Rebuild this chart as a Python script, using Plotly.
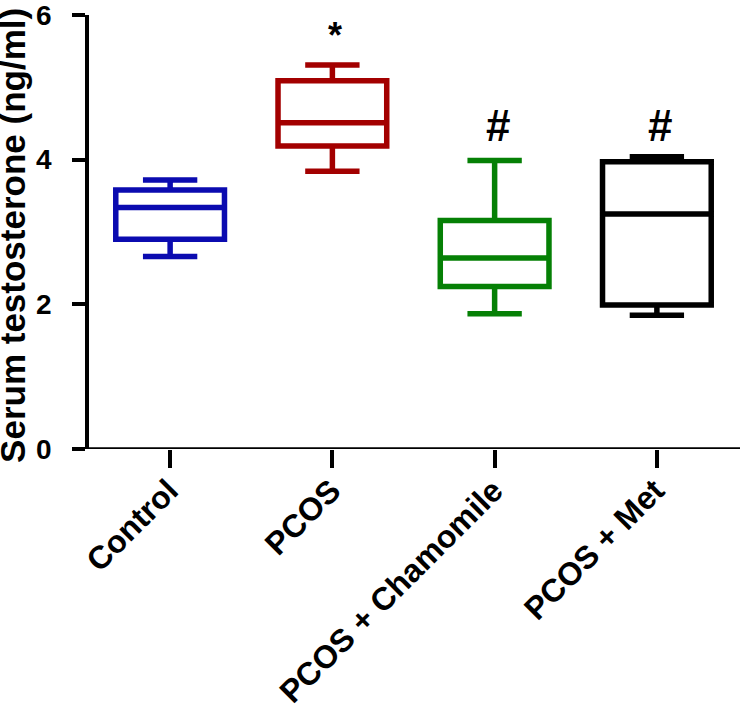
import plotly.graph_objects as go

categories = ["Control", "PCOS", "PCOS + Chamomile", "PCOS + Met"]
lower_whisker = [2.66, 3.84, 1.87, 1.85]
q1_values = [2.90, 4.19, 2.245, 1.99]
median_values = [3.34, 4.51, 2.64, 3.25]
q3_values = [3.58, 5.09, 3.16, 3.97]
upper_whisker = [3.72, 5.31, 3.99, 4.04]
sig_marks = ["", "*", "#", "#"]
sig_y = [0, 5.72, 4.47, 4.47]
y_ticks = [0, 2, 4, 6]
y_title = "Serum testosterone (ng/ml)"

colors = ["#0b0bb0", "#a30000", "#058005", "#000000"]
FONT = "Arial, Liberation Sans, sans-serif"

fig = go.Figure()
for i, cat in enumerate(categories):
    fig.add_trace(go.Box(
        x=[i], q1=[q1_values[i]], median=[median_values[i]], q3=[q3_values[i]],
        lowerfence=[lower_whisker[i]], upperfence=[upper_whisker[i]],
        width=0.67, whiskerwidth=0.5, boxpoints=False,
        line=dict(color=colors[i], width=5.5), fillcolor="white",
        showlegend=False, hoverinfo="skip",
    ))

annotations = []
for i, cat in enumerate(categories):
    annotations.append(dict(
        x=i, y=-0.046, xref="x", yref="paper", text="<b>%s</b>" % cat,
        textangle=-45, xanchor="right", yanchor="top", xshift=18,
        showarrow=False, font=dict(family=FONT, size=32, color="black"),
    ))
    if sig_marks[i]:
        annotations.append(dict(
            x=i, y=sig_y[i], xref="x", yref="y", text="<b>%s</b>" % sig_marks[i],
            xanchor="center", yanchor="middle", showarrow=False, xshift=3,
            font=dict(family=FONT, size=44 if sig_marks[i] == "#" else 36, color="black"),
        ))
annotations.append(dict(
    x=0, y=0.491, xref="paper", yref="paper", xshift=-76, text="<b>%s</b>" % y_title,
    textangle=-90, xanchor="center", yanchor="middle", showarrow=False,
    font=dict(family=FONT, size=35, color="black"),
))

fig.update_layout(
    width=740, height=718,
    margin=dict(l=89, r=2, t=15, b=269, autoexpand=False),
    plot_bgcolor="white", paper_bgcolor="white",
    boxmode="overlay",
    annotations=annotations,
    shapes=[dict(type="line", xref="paper", yref="y", x0=-0.022, x1=1.01, y0=0, y1=0,
                 line=dict(color="black", width=3.5), layer="above")],
)
fig.update_xaxes(
    range=[-0.5, 3.5], showgrid=False, zeroline=False, showline=False, automargin=False,
    tickmode="array", tickvals=list(range(len(categories))), ticktext=[""] * len(categories),
    ticks="outside", ticklen=18, tickwidth=3.5, tickcolor="black",
)
fig.update_yaxes(
    range=[0, 6], showgrid=False, zeroline=False, showline=True, linewidth=3.5, linecolor="black",
    automargin=False, ticklabeloverflow="allow",
    tickmode="array", tickvals=y_ticks, ticktext=["<b>%d</b>" % v for v in y_ticks],
    ticks="outside", ticklen=13, tickwidth=3.5, tickcolor="black",
    tickfont=dict(family=FONT, size=28, color="black"), ticklabelstandoff=15,
)

fig.write_html("out.html", config={"displayModeBar": False},
               post_script="document.body.style.margin='0';")
